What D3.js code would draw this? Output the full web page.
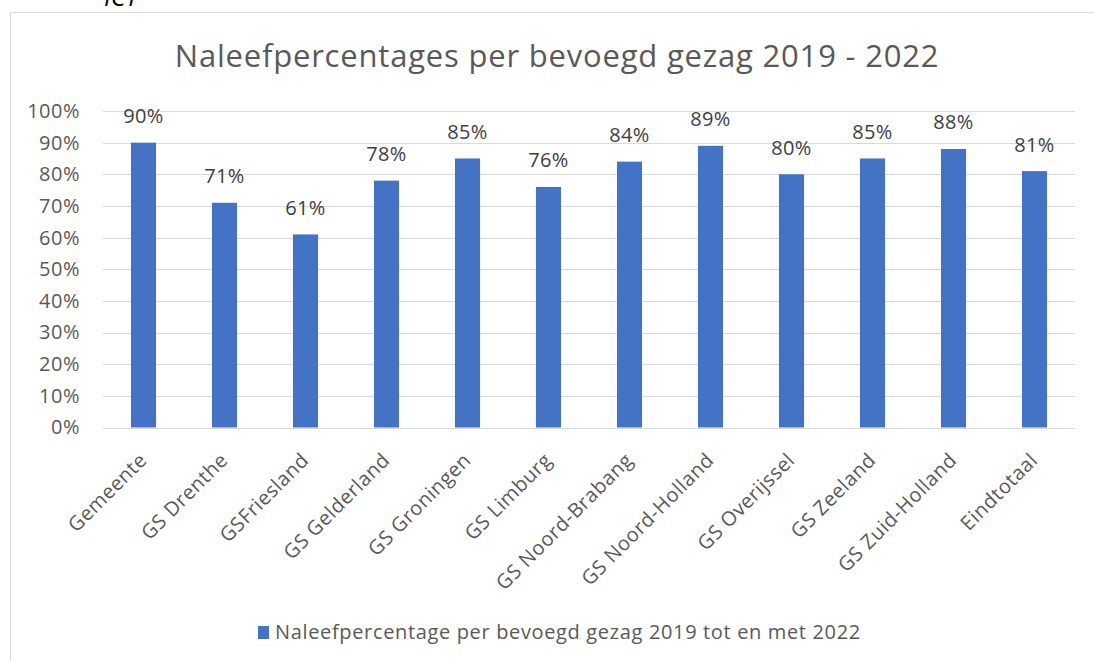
<!DOCTYPE html>
<html>
<head>
<meta charset="utf-8">
<script src="https://cdn.jsdelivr.net/npm/d3@7"></script>
<style>
  body { margin: 0; background: #fff; }
  svg { display: block; font-family: "Open Sans", "Noto Sans", sans-serif; }
</style>
</head>
<body>
<svg id="chart" width="1094" height="661"></svg>
<script>
// chart data
const categories = ["Gemeente", "GS Drenthe", "GSFriesland", "GS Gelderland", "GS Groningen",
    "GS Limburg", "GS Noord-Brabang", "GS Noord-Holland", "GS Overijssel", "GS Zeeland",
    "GS Zuid-Holland", "Eindtotaal"];
const values = [90, 71, 61, 78, 85, 76, 84, 89, 80, 85, 88, 81];
const yTicks = [0, 10, 20, 30, 40, 50, 60, 70, 80, 90, 100];
const title = "Naleefpercentages per bevoegd gezag 2019 - 2022";
const legendLabel = "Naleefpercentage per bevoegd gezag 2019 tot en met 2022";

const svg = d3.select("#chart");

// chart frame, bottom and right go past the window
svg.append("rect")
    .attr("x", 10.5).attr("y", 12.5)
    .attr("width", 1100).attr("height", 700)
    .attr("fill", "#fff")
    .attr("stroke", "#d9d9d9");

// cut-off text above the chart (it is cut in the original too)
svg.append("text")
    .attr("x", 104).attr("y", 6)
    .attr("font-size", 25)
    .attr("font-style", "italic")
    .attr("fill", "#000")
    .text("ICT");

const x = d3.scaleBand().domain(categories).range([103, 1075]).paddingInner(0.69).paddingOuter(0.345);
const y = d3.scaleLinear().domain([0, 100]).range([427.5, 111]);

svg.append("text")
    .attr("x", 557).attr("y", 67)
    .attr("text-anchor", "middle")
    .attr("font-size", 31)
    .attr("letter-spacing", 0.8)
    .attr("fill", "#595959")
    .text(title);

// gridlines
svg.append("g")
    .selectAll("line")
    .data(yTicks)
    .enter()
    .append("line")
    .attr("x1", 103).attr("x2", 1075)
    .attr("y1", d => Math.round(y(d)) + 0.5)
    .attr("y2", d => Math.round(y(d)) + 0.5)
    .attr("stroke", "#d9d9d9")
    .attr("stroke-width", 1.2);

// y axis labels
const yAxis = svg.append("g")
    .attr("transform", "translate(103, 0)")
    .call(d3.axisLeft(y).tickValues(yTicks).tickSize(0).tickPadding(23).tickFormat(d => d + "%"));
yAxis.select(".domain").remove();
yAxis.selectAll("text")
    .attr("font-size", 20)
    .attr("letter-spacing", 0.5)
    .attr("font-family", "\"Open Sans\", sans-serif")
    .attr("fill", "#595959");

// bars
svg.append("g")
    .selectAll("rect")
    .data(values)
    .enter()
    .append("rect")
    .attr("x", (d, i) => x(categories[i]))
    .attr("y", d => y(d))
    .attr("width", x.bandwidth())
    .attr("height", d => y(0) - y(d))
    .attr("fill", "#4472c4");

// value labels
svg.append("g")
    .selectAll("text")
    .data(values)
    .enter()
    .append("text")
    .attr("x", (d, i) => x(categories[i]) + x.bandwidth() / 2)
    .attr("y", d => y(d) - 19.5)
    .attr("text-anchor", "middle")
    .attr("font-size", 20)
    .attr("letter-spacing", 0.3)
    .attr("fill", "#404040")
    .text(d => d + "%");

// x axis labels, rotated
const xAxis = svg.append("g")
    .attr("transform", "translate(0, 427.5)")
    .call(d3.axisBottom(x).tickSize(0).tickPadding(0));
xAxis.select(".domain").remove();
xAxis.selectAll("text")
    .attr("font-size", 20)
    .attr("letter-spacing", 0.5)
    .attr("font-family", "\"Open Sans\", sans-serif")
    .attr("fill", "#595959")
    .attr("text-anchor", "end")
    .attr("x", 0).attr("y", 0).attr("dy", 0)
    .attr("transform", "translate(4.5, 34) rotate(-45)");

// legend
const legend = svg.append("g");
legend.append("rect")
    .attr("x", 258).attr("y", 626)
    .attr("width", 11).attr("height", 13)
    .attr("fill", "#4472c4");
legend.append("text")
    .attr("x", 275).attr("y", 639)
    .attr("font-size", 20)
    .attr("letter-spacing", 0.65)
    .attr("fill", "#595959")
    .text(legendLabel);
</script>
</body>
</html>
